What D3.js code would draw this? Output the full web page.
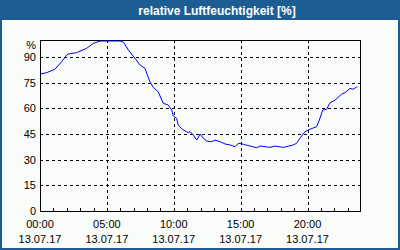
<!doctype html>
<html>
<head>
<meta charset="utf-8">
<title>relative Luftfeuchtigkeit</title>
<script src="https://d3js.org/d3.v7.min.js"></script>
<style>
body { margin: 0; background: white; }
svg { display: block; }
text { font-family: "Liberation Sans", Arial, sans-serif; }
</style>
</head>
<body>
<div id="chart1"></div>
<script type="text/javascript">
// data (13.07.17)
var day = "2017-07-13";
var times = ["00:00","00:30","01:07","01:37","02:00","02:07","02:44","03:29","03:59","04:29",
  "05:59","06:14","06:36","07:06","07:29","07:51","08:13","08:28","08:50","09:13",
  "09:35","09:51","09:58","10:13","10:20","10:36","10:43","11:05","11:13","11:28",
  "11:43","11:58","12:13","12:28","12:50","13:05","13:28","13:50","14:13","14:35",
  "14:50","15:12","15:42","16:12","16:27","17:12","17:34","18:11","18:56","19:11",
  "19:26","19:49","20:11","20:41","20:53","21:08","21:26","21:41","22:04","22:34",
  "22:48","23:11","23:25","23:43"];
var humidity = [80.1,80.9,82.9,87.3,91.2,91.8,92.6,95.1,98,99.4,
  99.4,98.8,94.2,89.3,85.4,83.4,75.6,72.3,69.8,63,
  62,59,55.6,54.2,50.3,48,47.4,45.8,46.4,44.4,
  41.5,45,42.5,40.9,40.5,41.5,40.5,39.2,38.6,37.6,
  39.6,39,38,37,38,37.2,38,37.2,38.6,39.6,
  42.5,46.4,47.8,49.3,53.2,59,59.5,63.3,64.9,68.4,
  69.2,71.7,71.2,72.7];
var yTicks = [0, 15, 30, 45, 60, 75, 90];
var xLabelHours = [0, 5, 10, 15, 20];
var dateLabel = "13.07.17";
var title = "relative Luftfeuchtigkeit [%]";

var W = 400, H = 250;
var margin = { top: 40, right: 40, bottom: 39, left: 40 };

var parse = d3.timeParse("%Y-%m-%d %H:%M");
var data = times.map(function(t, i) {
  return { date: parse(day + " " + t), value: humidity[i] };
});

var t0 = parse(day + " 00:00");
var t1 = d3.timeDay.offset(t0, 1);

var svg = d3.select("#chart1").append("svg")
  .attr("width", W)
  .attr("height", H);

// background + frame of the whole picture
svg.append("rect").attr("width", W).attr("height", H).attr("fill", "#1c5e94");
svg.append("rect")
  .attr("x", 2).attr("y", 20)
  .attr("width", W - 4).attr("height", H - 22)
  .attr("fill", "#fafcfa");

svg.append("text")
  .attr("x", 217)
  .attr("y", 14.5)
  .attr("text-anchor", "middle")
  .attr("font-size", "12px")
  .attr("font-weight", "bold")
  .attr("fill", "white")
  .text(title);

var x = d3.scaleTime()
  .domain([t0, t1])
  .range([margin.left, W - margin.right + 1]);

var y = d3.scaleLinear()
  .domain([0, 100])
  .range([H - margin.bottom, margin.top]);

var plotR = W - margin.right, plotB = H - margin.bottom;

// dashed grid
var grid = svg.append("g")
  .attr("stroke", "black")
  .attr("stroke-dasharray", "3,3")
  .attr("shape-rendering", "crispEdges");

grid.selectAll("line.h")
  .data(yTicks.filter(function(d) { return d > 0; }))
  .enter().append("line")
  .attr("x1", margin.left).attr("x2", plotR)
  .attr("y1", function(d) { return Math.round(y(d)) + 0.5; })
  .attr("y2", function(d) { return Math.round(y(d)) + 0.5; });

grid.selectAll("line.v")
  .data(xLabelHours.filter(function(d) { return d > 0; }))
  .enter().append("line")
  .attr("y1", margin.top).attr("y2", plotB)
  .attr("x1", function(d) { return Math.round(x(d3.timeHour.offset(t0, d))) + 0.5; })
  .attr("x2", function(d) { return Math.round(x(d3.timeHour.offset(t0, d))) + 0.5; });

// hour ticks along the bottom
svg.append("g")
  .attr("stroke", "black")
  .attr("shape-rendering", "crispEdges")
  .selectAll("line")
  .data(d3.timeHour.range(t0, t1))
  .enter().append("line")
  .attr("x1", function(d) { return Math.round(x(d)) + 0.5; })
  .attr("x2", function(d) { return Math.round(x(d)) + 0.5; })
  .attr("y1", plotB - 3).attr("y2", plotB);

// plot frame
svg.append("rect")
  .attr("x", margin.left + 0.5).attr("y", margin.top + 0.5)
  .attr("width", plotR - margin.left).attr("height", plotB - margin.top)
  .attr("fill", "none")
  .attr("stroke", "black")
  .attr("shape-rendering", "crispEdges");

// y labels
svg.append("g").selectAll("text")
  .data(yTicks)
  .enter().append("text")
  .attr("x", 36)
  .attr("y", function(d) { return y(d) + 4; })
  .attr("text-anchor", "end")
  .attr("font-size", "11px")
  .text(function(d) { return d; });

svg.append("text")
  .attr("x", 36).attr("y", 49)
  .attr("text-anchor", "end")
  .attr("font-size", "11px")
  .text("%");

// x labels
var fmt = d3.timeFormat("%H:%M");
var xl = svg.append("g").selectAll("g")
  .data(xLabelHours)
  .enter().append("g");
xl.append("text")
  .attr("x", function(d) { return x(d3.timeHour.offset(t0, d)); })
  .attr("y", 228)
  .attr("text-anchor", "middle")
  .attr("font-size", "11px")
  .text(function(d) { return fmt(d3.timeHour.offset(t0, d)); });
xl.append("text")
  .attr("x", function(d) { return x(d3.timeHour.offset(t0, d)); })
  .attr("y", 243)
  .attr("text-anchor", "middle")
  .attr("font-size", "11px")
  .text(dateLabel);

// humidity line
var line = d3.line()
  .x(function(d) { return x(d.date); })
  .y(function(d) { return y(d.value); });

svg.append("path")
  .datum(data)
  .attr("fill", "none")
  .attr("stroke", "#0000ff")
  .attr("stroke-width", 1)
  .attr("d", line);
</script>
</body>
</html>
